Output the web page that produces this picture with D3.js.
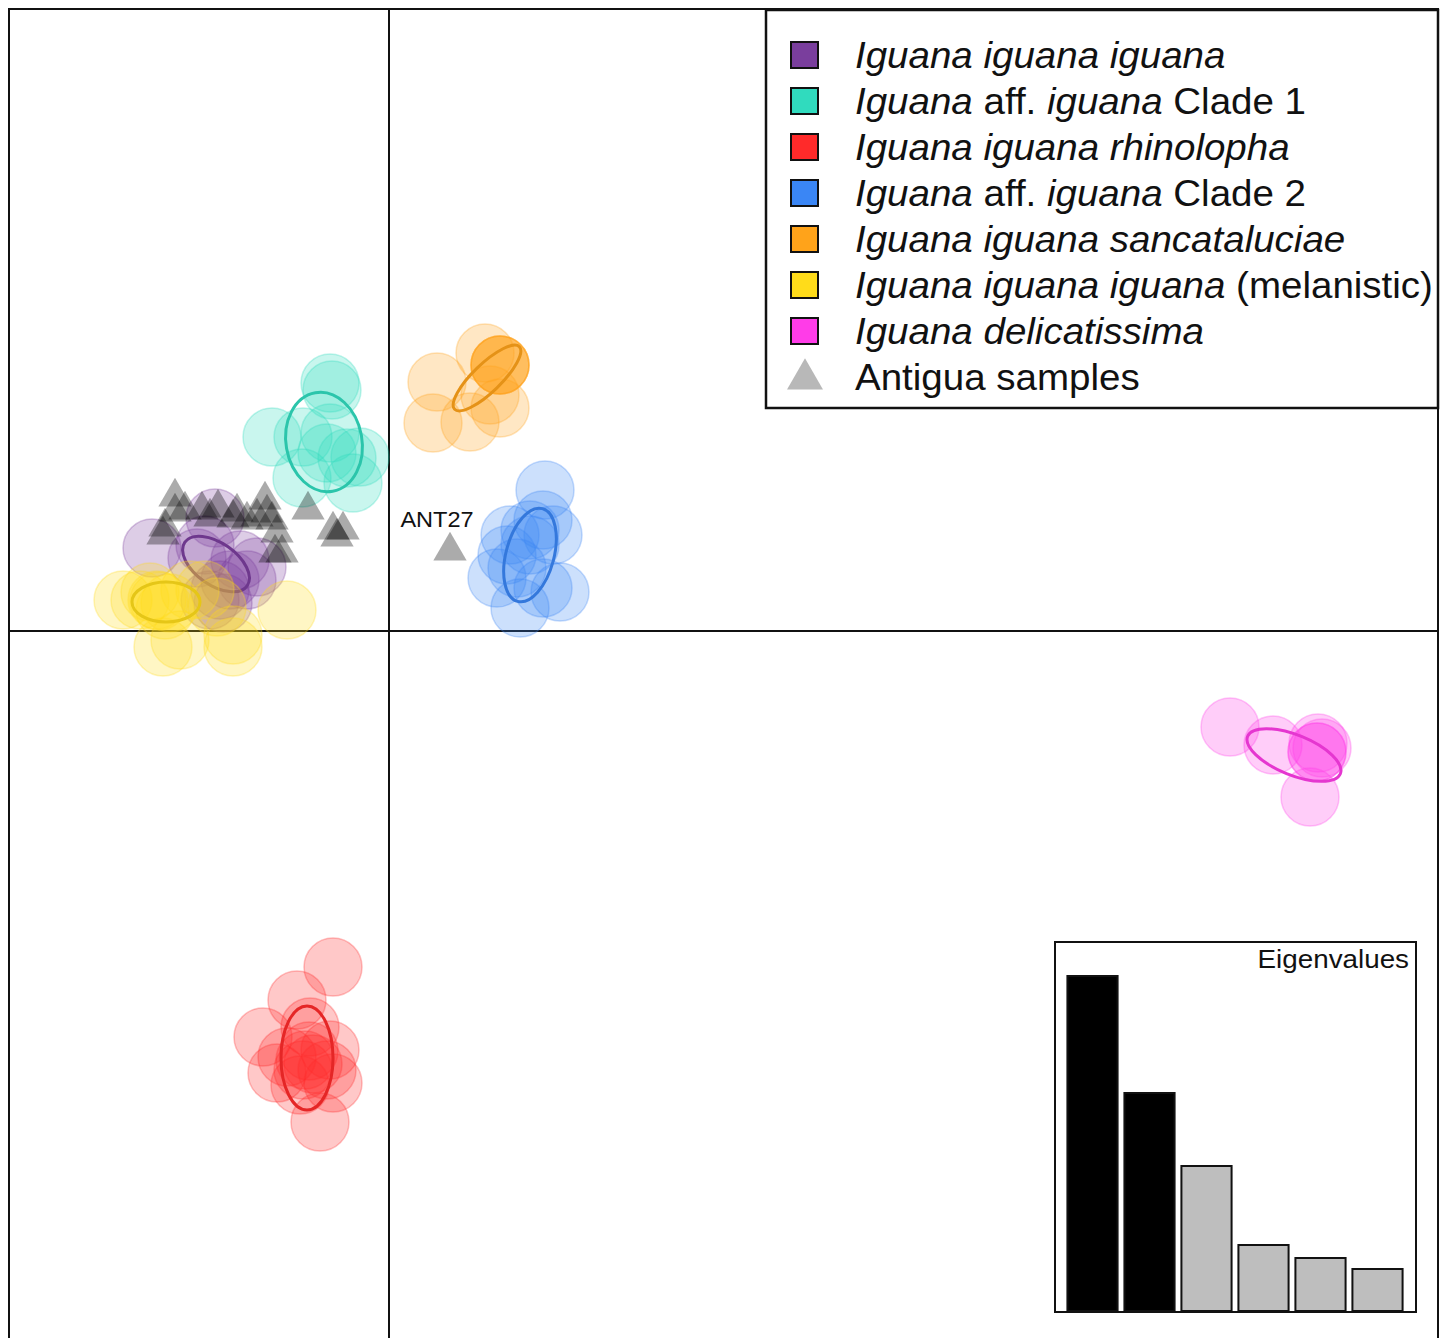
<!DOCTYPE html>
<html>
<head>
<meta charset="utf-8">
<script src="https://cdn.jsdelivr.net/npm/d3@7"></script>
<style>
body { margin: 0; background: #fff; }
svg { display: block; font-family: "Liberation Sans", Arial, sans-serif; }
</style>
</head>
<body>
<svg id="chart" width="1445" height="1338"></svg>
<script>
// group order = legend order
const groupNames = [
    "Iguana iguana iguana",
    "Iguana aff. iguana Clade 1",
    "Iguana iguana rhinolopha",
    "Iguana aff. iguana Clade 2",
    "Iguana iguana sancataluciae",
    "Iguana iguana iguana (melanistic)",
    "Iguana delicatissima"
];
// [text, italic]
const legendParts = [
    [["Iguana iguana iguana", true]],
    [["Iguana", true], [" aff. ", false], ["iguana", true], [" Clade 1", false]],
    [["Iguana iguana rhinolopha", true]],
    [["Iguana", true], [" aff. ", false], ["iguana", true], [" Clade 2", false]],
    [["Iguana iguana sancataluciae", true]],
    [["Iguana iguana iguana", true], [" (melanistic)", false]],
    [["Iguana delicatissima", true]]
];
const groupColors = ["#7a3e9d", "#30dbbe", "#ff2a2a", "#3a86f5", "#ffa31a", "#ffdc1a", "#ff3ce8"];

// PC1 / PC2 scores
const iguanaPts = [[-2.37, 0.83], [-1.74, 1.13], [-1.92, 0.73], [-1.32, 0.64], [-1.59, 0.51], [-1.66, 0.28],
    [-1.42, 0.51], [-1.84, 0.86], [-1.49, 0.71], [-1.69, 0.41], [-1.79, 0.31]];
const clade1Pts = [[-0.59, 2.48], [-0.57, 2.41], [-1.17, 1.94], [-0.86, 1.94], [-0.59, 1.98], [-0.62, 1.78],
    [-0.29, 1.74], [-0.87, 1.53], [-0.36, 1.48], [-0.42, 1.73]];
const rhinolophaPts = [[-0.56, -3.36], [-0.92, -3.69], [-1.26, -4.06], [-0.79, -3.96], [-1.02, -4.26], [-0.59, -4.19],
    [-1.12, -4.42], [-0.86, -4.39], [-0.62, -4.39], [-0.56, -4.52], [-0.69, -4.91], [-0.84, -4.29],
    [-0.89, -4.54], [-0.80, -4.20], [-0.76, -4.33]];
const clade2Pts = [[1.56, 1.41], [1.54, 1.11], [1.21, 0.96], [1.41, 1.01], [1.64, 0.96], [1.18, 0.76],
    [1.41, 0.86], [1.08, 0.53], [1.28, 0.63], [1.71, 0.39], [1.31, 0.23], [1.54, 0.43]];
const sancataluciaePts = [[1.11, 2.66], [1.11, 2.66], [1.11, 2.66], [1.11, 2.66], [0.96, 2.78], [0.48, 2.49],
    [1.11, 2.23], [0.44, 2.08], [0.81, 2.09], [1.01, 2.36]];
const melanisticPts = [[-2.66, 0.31], [-2.49, 0.31], [-2.32, 0.31], [-2.19, 0.28], [-2.39, 0.39], [-2.24, 0.21],
    [-1.99, 0.41], [-1.84, 0.41], [-1.72, 0.24], [-1.02, 0.21], [-2.26, -0.16], [-2.09, -0.09],
    [-1.56, -0.16], [-1.56, -0.04], [-2.30, 0.30]];
const delicatissimaPts = [[8.41, -0.96], [8.84, -1.14], [9.29, -1.12], [9.28, -1.21], [9.28, -1.21],
    [9.33, -1.17], [9.21, -1.66]];
const groupPoints = [iguanaPts, clade1Pts, rhinolophaPts, clade2Pts, sancataluciaePts, melanisticPts, delicatissimaPts];

// inertia ellipses: centre x, centre y, semi-axis a, semi-axis b, angle (deg, anticlockwise)
const groupEllipses = [
    [-1.73, 0.67, 0.38, 0.21, -35],
    [-0.65, 1.89, 0.38, 0.50, 10],
    [-0.82, -4.27, 0.26, 0.52, 0],
    [1.41, 0.76, 0.24, 0.48, -15],
    [0.98, 2.53, 0.45, 0.14, 44],
    [-2.23, 0.29, 0.34, 0.20, 0],
    [9.05, -1.24, 0.50, 0.20, -22]
];

// Antigua samples
const antiguaPts = [[-2.14, 1.34], [-2.14, 1.19], [-2.24, 1.04], [-2.26, 0.96], [-2.04, 1.21], [-1.87, 1.21],
    [-1.79, 1.14], [-1.71, 1.23], [-1.52, 1.19], [-1.56, 1.13], [-1.42, 1.11], [-1.32, 1.14],
    [-1.24, 1.31], [-1.22, 1.18], [-1.17, 1.11], [-1.12, 0.98], [-1.14, 0.78], [-1.07, 0.78],
    [-0.81, 1.21], [-0.56, 1.01], [-0.46, 1.01], [-0.52, 0.94]];
const ant27 = { label: "ANT27", pc: [0.61, 0.80] };

const eigenvalues = [33.5, 21.8, 14.5, 6.6, 5.3, 4.2];
const eigenRetained = 2;

const svg = d3.select("#chart");

const x = d3.scaleLinear().domain([-3.8, 10.49]).range([9, 1438]);
const y = d3.scaleLinear().domain([6.22, -7.07]).range([9, 1338]);
const ptRadius = 29;
const stretch = 1.07; // text in the figure is a little wider than Arial

// frame (bottom edge runs off the picture)
svg.append("path")
    .attr("d", `M9,1345V9H1438V1345`)
    .attr("fill", "none")
    .attr("stroke", "#111")
    .attr("stroke-width", 2);

// axes through origin
svg.append("line")
    .attr("x1", x(0)).attr("x2", x(0))
    .attr("y1", y.range()[0]).attr("y2", 1345)
    .attr("stroke", "#111").attr("stroke-width", 2);
svg.append("line")
    .attr("x1", x.range()[0]).attr("x2", x.range()[1])
    .attr("y1", y(0)).attr("y2", y(0))
    .attr("stroke", "#111").attr("stroke-width", 2);

// groups
groupPoints.forEach(function (pts, i) {
    let col = groupColors[i];
    let g = svg.append("g").attr("class", "grp");
    g.selectAll("circle")
        .data(pts)
        .enter().append("circle")
        .attr("cx", d => x(d[0]))
        .attr("cy", d => y(d[1]))
        .attr("r", ptRadius)
        .attr("fill", col)
        .attr("fill-opacity", 0.26)
        .attr("stroke", col)
        .attr("stroke-opacity", 0.3)
        .attr("stroke-width", 1.5);

    let e = groupEllipses[i];
    g.append("ellipse")
        .attr("transform", "translate(" + x(e[0]) + "," + y(e[1]) + ") rotate(" + (-e[4]) + ")")
        .attr("rx", x(e[2]) - x(0))
        .attr("ry", y(0) - y(e[3]))
        .attr("fill", "none")
        .attr("stroke", d3.color(col).darker(0.3))
        .attr("stroke-width", 3);
});

// Antigua triangles
const tri = d3.symbol(d3.symbolTriangle).size(480);
svg.append("g").selectAll("path")
    .data(antiguaPts.concat([ant27.pc]))
    .enter().append("path")
    .attr("d", tri)
    .attr("transform", d => "translate(" + x(d[0]) + "," + y(d[1]) + ")")
    .attr("fill", "#000")
    .attr("fill-opacity", 0.33);

svg.append("text")
    .attr("transform", "translate(" + (x(ant27.pc[0]) - 13) + "," + (y(ant27.pc[1]) - 24) + ") scale(" + stretch + ",1)")
    .attr("text-anchor", "middle")
    .attr("font-size", 22)
    .attr("fill", "#111")
    .text(ant27.label);

// legend
const legend = svg.append("g").attr("transform", "translate(766,10)");
legend.append("rect")
    .attr("width", 672).attr("height", 398)
    .attr("fill", "#fff")
    .attr("stroke", "#111").attr("stroke-width", 2.5);

const rowY = d3.scalePoint().domain(d3.range(8)).range([45, 367]);
legendParts.forEach(function (parts, i) {
    legend.append("rect")
        .attr("x", 25).attr("y", rowY(i) - 13)
        .attr("width", 27).attr("height", 26)
        .attr("fill", groupColors[i])
        .attr("stroke", "#111").attr("stroke-width", 2);
    let t = legend.append("text")
        .attr("transform", "translate(89," + (rowY(i) + 13) + ") scale(" + stretch + ",1)")
        .attr("font-size", 36)
        .attr("fill", "#111");
    parts.forEach(function (p) {
        t.append("tspan")
            .attr("font-style", p[1] ? "italic" : "normal")
            .text(p[0]);
    });
});
legend.append("path")
    .attr("d", d3.symbol(d3.symbolTriangle).size(560))
    .attr("transform", "translate(39," + (rowY(7) + 2) + ")")
    .attr("fill", "#b8b8b8");
legend.append("text")
    .attr("transform", "translate(89," + (rowY(7) + 13) + ") scale(" + stretch + ",1)")
    .attr("font-size", 36)
    .attr("fill", "#111")
    .text("Antigua samples");

// eigenvalue inset
const inset = { x0: 1055, y0: 942, x1: 1416, y1: 1312 };
svg.append("rect")
    .attr("x", inset.x0).attr("y", inset.y0)
    .attr("width", inset.x1 - inset.x0).attr("height", inset.y1 - inset.y0)
    .attr("fill", "#fff")
    .attr("stroke", "#111").attr("stroke-width", 2);

const ex = d3.scaleBand()
    .domain(d3.range(eigenvalues.length))
    .range([1064, 1406])
    .paddingInner(0.12)
    .paddingOuter(0.06);
const ey = d3.scaleLinear()
    .domain([0, d3.max(eigenvalues)])
    .range([1311, 976]);

svg.append("g").selectAll("rect")
    .data(eigenvalues)
    .enter().append("rect")
    .attr("x", (d, i) => ex(i))
    .attr("y", d => ey(d))
    .attr("width", ex.bandwidth())
    .attr("height", d => ey(0) - ey(d))
    .attr("fill", (d, i) => i < eigenRetained ? "#000" : "#bebebe")
    .attr("stroke", "#111")
    .attr("stroke-width", 2);

svg.append("text")
    .attr("transform", "translate(1409,968) scale(" + stretch + ",1)")
    .attr("text-anchor", "end")
    .attr("font-size", 26)
    .attr("fill", "#111")
    .text("Eigenvalues");
</script>
</body>
</html>
